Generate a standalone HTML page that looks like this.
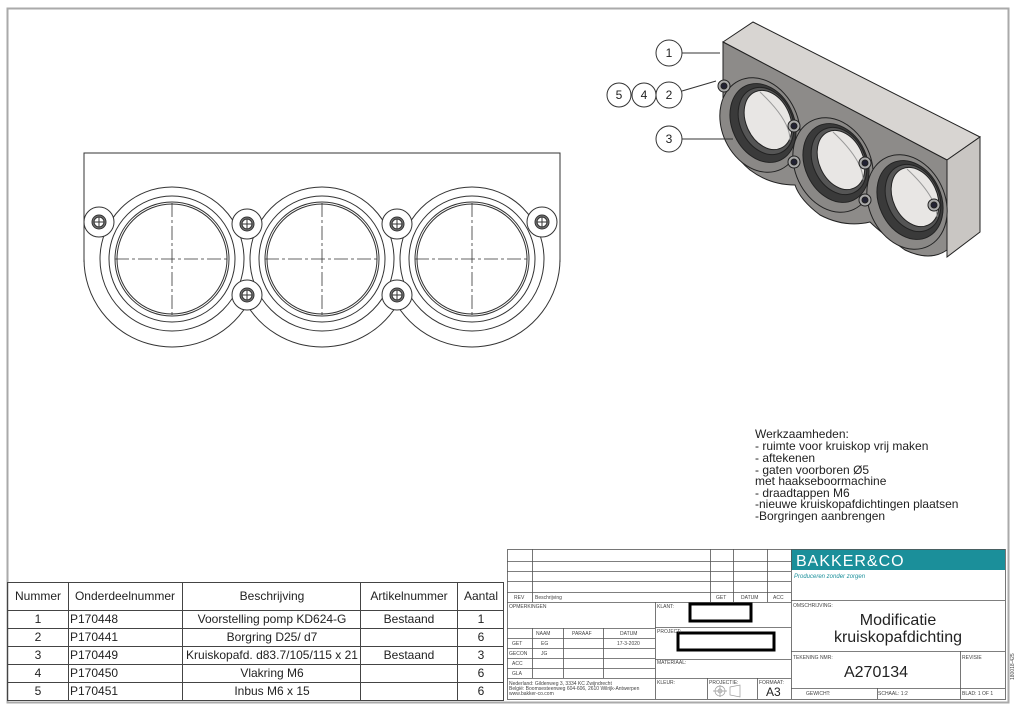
<!DOCTYPE html>
<html><head><meta charset="utf-8"><style>
body{margin:0;background:#fff;}
svg{display:block;font-family:"Liberation Sans",sans-serif;}
</style></head><body>
<svg width="1024" height="714" viewBox="0 0 1024 714" xmlns="http://www.w3.org/2000/svg">
<rect x="0" y="0" width="1024" height="714" fill="#fff"/>
<rect x="7.5" y="8.5" width="1001" height="694" fill="none" stroke="#aaa" stroke-width="2"/>

<!-- front view -->
<g fill="none" stroke="#333" stroke-width="1">
<path d="M84,262 L84,153 L560,153 L560,262"/>
<path d="M84,259 A88,88 0 0 0 247,305 A88,88 0 0 0 397,305 A88,88 0 0 0 560,259"/>
<g id="r">
<circle cx="172" cy="259" r="72"/>
<circle cx="172" cy="259" r="63"/>
<circle cx="172" cy="259" r="57"/>
<circle cx="172" cy="259" r="55"/>
<path d="M115,259 H229 M172,203 V315" stroke-dasharray="14,3,3,3" stroke-width="0.8"/>
</g>
<use href="#r" x="150"/>
<use href="#r" x="300"/>
<g id="b"><circle cx="99" cy="222" r="15" fill="#fff"/><circle cx="99" cy="222" r="7" fill="#777"/><circle cx="99" cy="222" r="5" fill="#fff"/><path d="M94,222h10M99,217v10"/></g>
<use href="#b" x="148" y="2"/><use href="#b" x="298" y="2"/>
<use href="#b" x="148" y="73"/><use href="#b" x="298" y="73"/>
<use href="#b" x="443"/>
</g>

<!-- 3D view -->
<g stroke="#222" stroke-width="1">
<polygon points="723,42 753,22 980,137 947,160" fill="#d8d5d2"/>
<polygon points="947,160 980,137 980,232 947,257" fill="#c9c6c3"/>
<path d="M723,42 L947,160 L947,250 Q930,262 905,250 Q880,232 870,222 Q845,228 820,215 Q800,200 795,185 Q770,185 750,170 Q726,150 723,120 Z" fill="#8d8b89"/>
<g id="c"><ellipse cx="760" cy="125" rx="38" ry="49" transform="rotate(-25 760 125)" fill="#8a8886"/>
<ellipse cx="763" cy="123" rx="31" ry="41" transform="rotate(-25 763 123)" fill="#3a3a3a"/>
<ellipse cx="766" cy="121" rx="26" ry="35" transform="rotate(-25 766 121)" fill="#555"/>
<ellipse cx="768" cy="120" rx="22" ry="31" transform="rotate(-25 768 120)" fill="#e8e6e4"/>
<path d="M760,92 Q790,120 790,140" stroke="#999" fill="none"/></g>
<use href="#c" x="73" y="40"/><use href="#c" x="147" y="77"/>
<g fill="#aaa"><circle cx="724" cy="86" r="6"/><circle cx="794" cy="126" r="6"/><circle cx="794" cy="162" r="6"/><circle cx="865" cy="163" r="6"/><circle cx="865" cy="200" r="6"/><circle cx="934" cy="205" r="6"/></g>
<g fill="#223"><circle cx="724" cy="86" r="3"/><circle cx="794" cy="126" r="3"/><circle cx="794" cy="162" r="3"/><circle cx="865" cy="163" r="3"/><circle cx="865" cy="200" r="3"/><circle cx="934" cy="205" r="3"/></g>
</g>
<g fill="#fff" stroke="#333" stroke-width="1">
<circle cx="669" cy="53" r="13"/><circle cx="669" cy="95" r="13"/><circle cx="644" cy="95" r="12"/><circle cx="619" cy="95" r="12"/><circle cx="669" cy="139" r="13"/>
<path d="M682,53 H720 M682,91 L716,81 M682,139 H733" fill="none"/>
</g>
<g font-size="12" text-anchor="middle" fill="#222">
<text x="669" y="57">1</text><text x="669" y="99">2</text><text x="644" y="99">4</text><text x="619" y="99">5</text><text x="669" y="143">3</text>
</g>

<!-- notes -->
<g font-size="12" fill="#222">
<text x="755" y="438">Werkzaamheden:</text>
<text x="755" y="450">- ruimte voor kruiskop vrij maken</text>
<text x="755" y="462">- aftekenen</text>
<text x="755" y="474">- gaten voorboren Ø5</text>
<text x="755" y="485">met haakseboormachine</text>
<text x="755" y="497">- draadtappen M6</text>
<text x="755" y="508">-nieuwe kruiskopafdichtingen plaatsen</text>
<text x="755" y="520">-Borgringen aanbrengen</text>
</g>

<!-- BOM table -->
<g stroke="#444" stroke-width="1" fill="none">
<rect x="7.5" y="582.5" width="496" height="118"/>
<path d="M7,610.5H503M7,628.5H503M7,646.5H503M7,664.5H503M7,682.5H503M68.5,582V701M182.5,582V701M360.5,582V701M457.5,582V701"/>
</g>
<g font-size="12" fill="#222" text-anchor="middle">
<text x="38" y="600">Nummer</text><text x="125" y="600">Onderdeelnummer</text><text x="272" y="600">Beschrijving</text><text x="409" y="600">Artikelnummer</text><text x="481" y="600">Aantal</text>
<text x="38" y="623">1</text><text x="38" y="641">2</text><text x="38" y="659">3</text><text x="38" y="677">4</text><text x="38" y="695">5</text>
<text x="272" y="623">Voorstelling pomp KD624-G</text><text x="272" y="641">Borgring D25/ d7</text><text x="272" y="659">Kruiskopafd. d83.7/105/115 x 21</text><text x="272" y="677">Vlakring M6</text><text x="272" y="695">Inbus M6 x 15</text>
<text x="409" y="623">Bestaand</text><text x="409" y="659">Bestaand</text>
<text x="481" y="623">1</text><text x="481" y="641">6</text><text x="481" y="659">3</text><text x="481" y="677">6</text><text x="481" y="695">6</text>
</g>
<g font-size="12" fill="#222"><text x="70" y="623">P170448</text><text x="70" y="641">P170441</text><text x="70" y="659">P170449</text><text x="70" y="677">P170450</text><text x="70" y="695">P170451</text></g>

<!-- title block -->
<rect x="791" y="549" width="214" height="21" fill="#1b8f9a"/>
<g stroke="#555" stroke-width="0.8" fill="none">
<rect x="507.5" y="549.5" width="498" height="150"/>
<path d="M507,561.5H791M507,571.5H791M507,581.5H791M507,592.5H791M507,602.5H791M532.5,549V602M710.5,549V602M733.5,549V602M767.5,549V602M791.5,549V699"/>
<path d="M655.5,602V699M507,628.5H655M507,638.5H655M507,648.5H655M507,658.5H655M507,668.5H655M507,678.5H791M532.5,628V678M563.5,628V678M603.5,628V678M655,627.5H791M655,659.5H791M707.5,678V699M757.5,678V699"/>
<path d="M791,600.5H1005M791,651.5H1005M791,688.5H1005M960.5,651V699M877.5,688V699"/>
</g>
<rect x="690" y="604" width="61" height="17" fill="#fff" stroke="#000" stroke-width="3"/>
<rect x="678" y="633" width="96" height="17" fill="#fff" stroke="#000" stroke-width="3"/>
<text x="796" y="566" font-size="16" fill="#fff" letter-spacing="1">BAKKER&amp;CO</text>
<text x="794" y="578" font-size="6" fill="#1b8f9a" font-style="italic">Produceren zonder zorgen</text>
<g font-size="5" fill="#444">
<text x="514" y="599">REV</text><text x="535" y="599">Beschrijving</text><text x="716" y="599">GET</text><text x="741" y="599">DATUM</text><text x="773" y="599">ACC</text>
<text x="509" y="608">OPMERKINGEN</text><text x="657" y="608">KLANT:</text><text x="657" y="633">PROJECT:</text><text x="657" y="664">MATERIAAL:</text>
<text x="536" y="635">NAAM</text><text x="572" y="635">PARAAF</text><text x="620" y="635">DATUM</text>
<text x="512" y="645">GET</text><text x="541" y="645">EG</text><text x="617" y="645">17-3-2020</text>
<text x="509" y="655">GECON</text><text x="541" y="655">JG</text><text x="512" y="665">ACC</text><text x="512" y="675">GLA</text>
<text x="509" y="685">Nederland: Gildenweg 3, 3334 KC Zwijndrecht</text><text x="509" y="690">België: Boomsesteenweg 604-606, 2610 Wilrijk-Antwerpen</text><text x="509" y="695">www.bakker-co.com</text>
<text x="657" y="684">KLEUR:</text><text x="709" y="684">PROJECTIE:</text><text x="759" y="684">FORMAAT:</text>
<text x="793" y="607">OMSCHRIJVING:</text><text x="793" y="659">TEKENING NMR:</text><text x="962" y="659">REVISIE</text>
<text x="806" y="695">GEWICHT:</text><text x="878" y="695">SCHAAL: 1:2</text><text x="962" y="695">BLAD: 1 OF 1</text>
</g>
<g font-size="16" fill="#222" text-anchor="middle">
<text x="898" y="625">Modificatie</text><text x="898" y="642">kruiskopafdichting</text>
<text x="876" y="677">A270134</text>
</g>
<text x="766" y="696" font-size="12" fill="#222">A3</text>
<g stroke="#999" fill="none" stroke-width="0.7"><circle cx="720" cy="691" r="5"/><circle cx="720" cy="691" r="2"/><path d="M713,691h14M720,685v12M730,687l10,-2v12l-10,-2z"/></g>
<text x="1014" y="680" font-size="5" fill="#444" transform="rotate(-90 1014 680)">180018-425</text>
</svg>
</body></html>
